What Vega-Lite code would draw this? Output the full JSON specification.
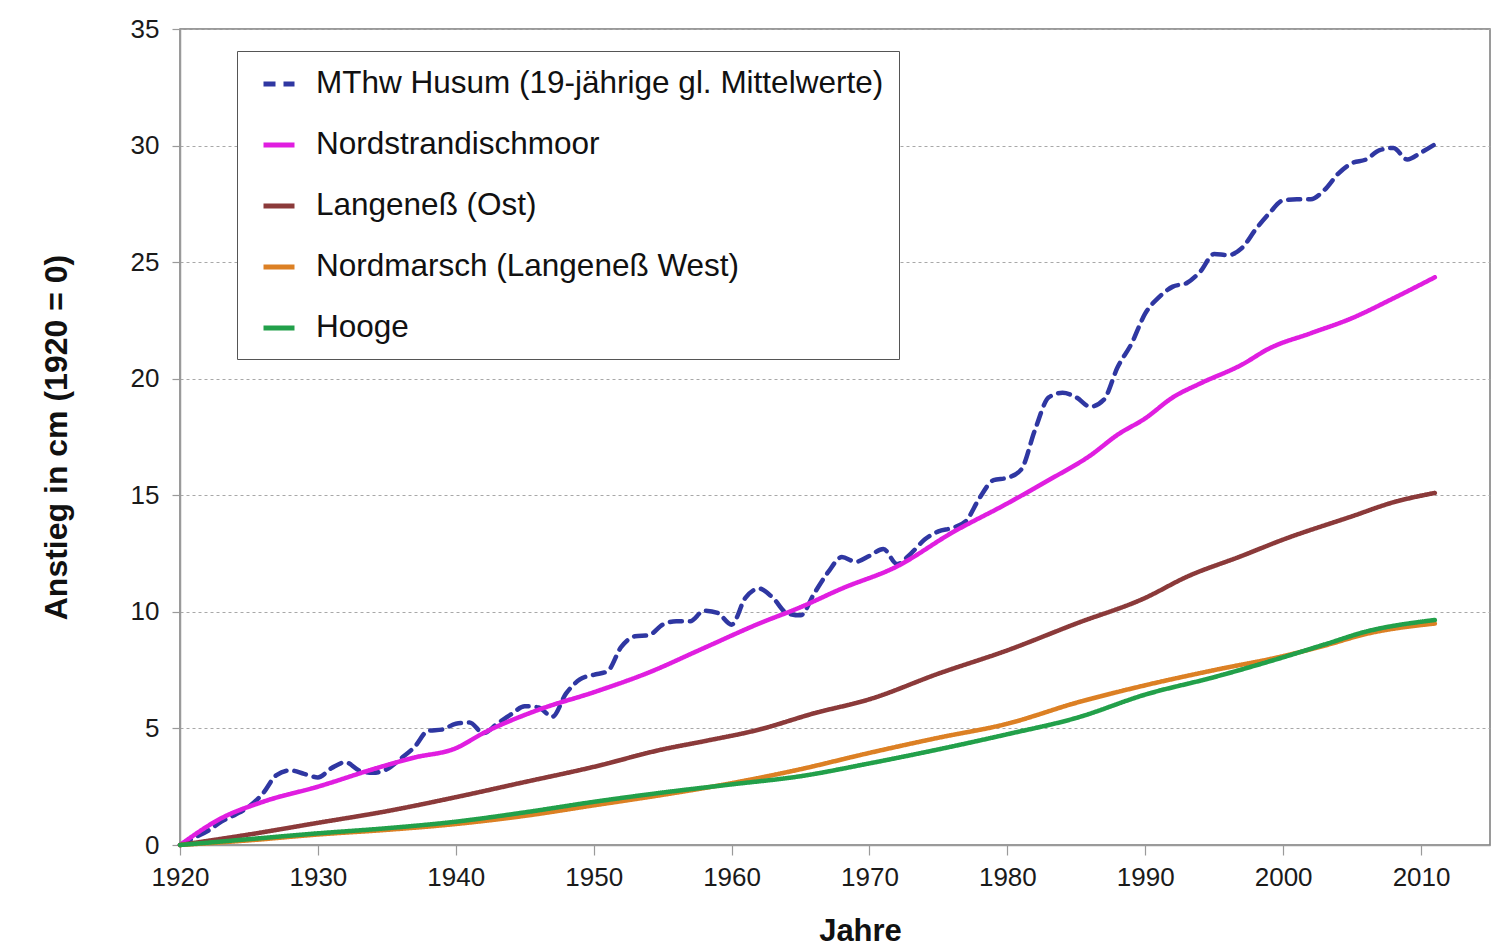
{
  "$schema": "https://vega.github.io/schema/vega-lite/v6.json",
  "width": 1310,
  "height": 816,
  "autosize": {"type": "none"},
  "padding": {"left": 180, "top": 29, "right": 22, "bottom": 107},
  "background": "white",
  "config": {
    "font": "Liberation Sans",
    "view": {"stroke": "#7a7a7a", "strokeWidth": 1.5},
    "axis": {
      "labelFont": "Liberation Sans",
      "titleFont": "Liberation Sans",
      "labelColor": "#1a1a1a",
      "titleColor": "#111",
      "domainColor": "#9a9a9a",
      "domainWidth": 1.5,
      "tickColor": "#9a9a9a",
      "tickWidth": 1.2
    }
  },
  "datasets": {
    "rows": [
      {"s": "MThw Husum (19-jährige gl. Mittelwerte)", "year": 1920, "v": 0},
      {"s": "MThw Husum (19-jährige gl. Mittelwerte)", "year": 1921, "v": 0.3},
      {"s": "MThw Husum (19-jährige gl. Mittelwerte)", "year": 1922, "v": 0.6},
      {"s": "MThw Husum (19-jährige gl. Mittelwerte)", "year": 1923, "v": 1.0},
      {"s": "MThw Husum (19-jährige gl. Mittelwerte)", "year": 1924, "v": 1.3},
      {"s": "MThw Husum (19-jährige gl. Mittelwerte)", "year": 1925, "v": 1.65},
      {"s": "MThw Husum (19-jährige gl. Mittelwerte)", "year": 1926, "v": 2.2},
      {"s": "MThw Husum (19-jährige gl. Mittelwerte)", "year": 1927, "v": 3.0},
      {"s": "MThw Husum (19-jährige gl. Mittelwerte)", "year": 1928, "v": 3.2},
      {"s": "MThw Husum (19-jährige gl. Mittelwerte)", "year": 1929, "v": 3.05},
      {"s": "MThw Husum (19-jährige gl. Mittelwerte)", "year": 1930, "v": 2.9},
      {"s": "MThw Husum (19-jährige gl. Mittelwerte)", "year": 1931, "v": 3.3},
      {"s": "MThw Husum (19-jährige gl. Mittelwerte)", "year": 1932, "v": 3.55},
      {"s": "MThw Husum (19-jährige gl. Mittelwerte)", "year": 1933, "v": 3.2},
      {"s": "MThw Husum (19-jährige gl. Mittelwerte)", "year": 1934, "v": 3.1},
      {"s": "MThw Husum (19-jährige gl. Mittelwerte)", "year": 1935, "v": 3.25},
      {"s": "MThw Husum (19-jährige gl. Mittelwerte)", "year": 1936, "v": 3.7},
      {"s": "MThw Husum (19-jährige gl. Mittelwerte)", "year": 1937, "v": 4.2},
      {"s": "MThw Husum (19-jährige gl. Mittelwerte)", "year": 1938, "v": 4.9},
      {"s": "MThw Husum (19-jährige gl. Mittelwerte)", "year": 1939, "v": 4.95},
      {"s": "MThw Husum (19-jährige gl. Mittelwerte)", "year": 1940, "v": 5.2},
      {"s": "MThw Husum (19-jährige gl. Mittelwerte)", "year": 1941, "v": 5.25},
      {"s": "MThw Husum (19-jährige gl. Mittelwerte)", "year": 1942, "v": 4.8},
      {"s": "MThw Husum (19-jährige gl. Mittelwerte)", "year": 1943, "v": 5.2},
      {"s": "MThw Husum (19-jährige gl. Mittelwerte)", "year": 1944, "v": 5.6},
      {"s": "MThw Husum (19-jährige gl. Mittelwerte)", "year": 1945, "v": 5.95},
      {"s": "MThw Husum (19-jährige gl. Mittelwerte)", "year": 1946, "v": 5.9},
      {"s": "MThw Husum (19-jährige gl. Mittelwerte)", "year": 1947, "v": 5.5},
      {"s": "MThw Husum (19-jährige gl. Mittelwerte)", "year": 1948, "v": 6.5},
      {"s": "MThw Husum (19-jährige gl. Mittelwerte)", "year": 1949, "v": 7.1},
      {"s": "MThw Husum (19-jährige gl. Mittelwerte)", "year": 1950, "v": 7.3},
      {"s": "MThw Husum (19-jährige gl. Mittelwerte)", "year": 1951, "v": 7.45},
      {"s": "MThw Husum (19-jährige gl. Mittelwerte)", "year": 1952, "v": 8.5},
      {"s": "MThw Husum (19-jährige gl. Mittelwerte)", "year": 1953, "v": 8.95},
      {"s": "MThw Husum (19-jährige gl. Mittelwerte)", "year": 1954, "v": 9.0},
      {"s": "MThw Husum (19-jährige gl. Mittelwerte)", "year": 1955, "v": 9.45},
      {"s": "MThw Husum (19-jährige gl. Mittelwerte)", "year": 1956, "v": 9.6},
      {"s": "MThw Husum (19-jährige gl. Mittelwerte)", "year": 1957, "v": 9.6},
      {"s": "MThw Husum (19-jährige gl. Mittelwerte)", "year": 1958, "v": 10.05},
      {"s": "MThw Husum (19-jährige gl. Mittelwerte)", "year": 1959, "v": 9.95},
      {"s": "MThw Husum (19-jährige gl. Mittelwerte)", "year": 1960, "v": 9.45},
      {"s": "MThw Husum (19-jährige gl. Mittelwerte)", "year": 1961, "v": 10.6},
      {"s": "MThw Husum (19-jährige gl. Mittelwerte)", "year": 1962, "v": 11.0},
      {"s": "MThw Husum (19-jährige gl. Mittelwerte)", "year": 1963, "v": 10.6},
      {"s": "MThw Husum (19-jährige gl. Mittelwerte)", "year": 1964, "v": 9.95},
      {"s": "MThw Husum (19-jährige gl. Mittelwerte)", "year": 1965, "v": 9.85},
      {"s": "MThw Husum (19-jährige gl. Mittelwerte)", "year": 1966, "v": 10.8},
      {"s": "MThw Husum (19-jährige gl. Mittelwerte)", "year": 1967, "v": 11.7},
      {"s": "MThw Husum (19-jährige gl. Mittelwerte)", "year": 1968, "v": 12.35},
      {"s": "MThw Husum (19-jährige gl. Mittelwerte)", "year": 1969, "v": 12.15},
      {"s": "MThw Husum (19-jährige gl. Mittelwerte)", "year": 1970, "v": 12.4},
      {"s": "MThw Husum (19-jährige gl. Mittelwerte)", "year": 1971, "v": 12.7},
      {"s": "MThw Husum (19-jährige gl. Mittelwerte)", "year": 1972, "v": 12.05},
      {"s": "MThw Husum (19-jährige gl. Mittelwerte)", "year": 1973, "v": 12.5},
      {"s": "MThw Husum (19-jährige gl. Mittelwerte)", "year": 1974, "v": 13.1},
      {"s": "MThw Husum (19-jährige gl. Mittelwerte)", "year": 1975, "v": 13.45},
      {"s": "MThw Husum (19-jährige gl. Mittelwerte)", "year": 1976, "v": 13.6},
      {"s": "MThw Husum (19-jährige gl. Mittelwerte)", "year": 1977, "v": 13.9},
      {"s": "MThw Husum (19-jährige gl. Mittelwerte)", "year": 1978, "v": 14.9},
      {"s": "MThw Husum (19-jährige gl. Mittelwerte)", "year": 1979, "v": 15.65},
      {"s": "MThw Husum (19-jährige gl. Mittelwerte)", "year": 1980, "v": 15.75},
      {"s": "MThw Husum (19-jährige gl. Mittelwerte)", "year": 1981, "v": 16.1},
      {"s": "MThw Husum (19-jährige gl. Mittelwerte)", "year": 1982, "v": 17.8},
      {"s": "MThw Husum (19-jährige gl. Mittelwerte)", "year": 1983, "v": 19.2},
      {"s": "MThw Husum (19-jährige gl. Mittelwerte)", "year": 1984, "v": 19.4},
      {"s": "MThw Husum (19-jährige gl. Mittelwerte)", "year": 1985, "v": 19.2},
      {"s": "MThw Husum (19-jährige gl. Mittelwerte)", "year": 1986, "v": 18.8},
      {"s": "MThw Husum (19-jährige gl. Mittelwerte)", "year": 1987, "v": 19.1},
      {"s": "MThw Husum (19-jährige gl. Mittelwerte)", "year": 1988, "v": 20.5},
      {"s": "MThw Husum (19-jährige gl. Mittelwerte)", "year": 1989, "v": 21.5},
      {"s": "MThw Husum (19-jährige gl. Mittelwerte)", "year": 1990, "v": 22.8},
      {"s": "MThw Husum (19-jährige gl. Mittelwerte)", "year": 1991, "v": 23.5},
      {"s": "MThw Husum (19-jährige gl. Mittelwerte)", "year": 1992, "v": 23.95},
      {"s": "MThw Husum (19-jährige gl. Mittelwerte)", "year": 1993, "v": 24.1},
      {"s": "MThw Husum (19-jährige gl. Mittelwerte)", "year": 1994, "v": 24.6},
      {"s": "MThw Husum (19-jährige gl. Mittelwerte)", "year": 1995, "v": 25.35},
      {"s": "MThw Husum (19-jährige gl. Mittelwerte)", "year": 1996, "v": 25.3},
      {"s": "MThw Husum (19-jährige gl. Mittelwerte)", "year": 1997, "v": 25.6},
      {"s": "MThw Husum (19-jährige gl. Mittelwerte)", "year": 1998, "v": 26.4},
      {"s": "MThw Husum (19-jährige gl. Mittelwerte)", "year": 1999, "v": 27.1},
      {"s": "MThw Husum (19-jährige gl. Mittelwerte)", "year": 2000, "v": 27.65},
      {"s": "MThw Husum (19-jährige gl. Mittelwerte)", "year": 2001, "v": 27.7},
      {"s": "MThw Husum (19-jährige gl. Mittelwerte)", "year": 2002, "v": 27.7},
      {"s": "MThw Husum (19-jährige gl. Mittelwerte)", "year": 2003, "v": 28.1},
      {"s": "MThw Husum (19-jährige gl. Mittelwerte)", "year": 2004, "v": 28.8},
      {"s": "MThw Husum (19-jährige gl. Mittelwerte)", "year": 2005, "v": 29.25},
      {"s": "MThw Husum (19-jährige gl. Mittelwerte)", "year": 2006, "v": 29.4},
      {"s": "MThw Husum (19-jährige gl. Mittelwerte)", "year": 2007, "v": 29.8},
      {"s": "MThw Husum (19-jährige gl. Mittelwerte)", "year": 2008, "v": 29.9},
      {"s": "MThw Husum (19-jährige gl. Mittelwerte)", "year": 2009, "v": 29.4},
      {"s": "MThw Husum (19-jährige gl. Mittelwerte)", "year": 2010, "v": 29.7},
      {"s": "MThw Husum (19-jährige gl. Mittelwerte)", "year": 2011, "v": 30.05},

      {"s": "Nordstrandischmoor", "year": 1920, "v": 0},
      {"s": "Nordstrandischmoor", "year": 1923, "v": 1.15},
      {"s": "Nordstrandischmoor", "year": 1926, "v": 1.85},
      {"s": "Nordstrandischmoor", "year": 1930, "v": 2.5},
      {"s": "Nordstrandischmoor", "year": 1934, "v": 3.25},
      {"s": "Nordstrandischmoor", "year": 1937, "v": 3.75},
      {"s": "Nordstrandischmoor", "year": 1940, "v": 4.15},
      {"s": "Nordstrandischmoor", "year": 1942, "v": 4.8},
      {"s": "Nordstrandischmoor", "year": 1946, "v": 5.8},
      {"s": "Nordstrandischmoor", "year": 1950, "v": 6.55},
      {"s": "Nordstrandischmoor", "year": 1954, "v": 7.4},
      {"s": "Nordstrandischmoor", "year": 1958, "v": 8.45},
      {"s": "Nordstrandischmoor", "year": 1962, "v": 9.5},
      {"s": "Nordstrandischmoor", "year": 1965, "v": 10.2},
      {"s": "Nordstrandischmoor", "year": 1968, "v": 11.0},
      {"s": "Nordstrandischmoor", "year": 1972, "v": 11.95},
      {"s": "Nordstrandischmoor", "year": 1976, "v": 13.4},
      {"s": "Nordstrandischmoor", "year": 1980, "v": 14.65},
      {"s": "Nordstrandischmoor", "year": 1983, "v": 15.65},
      {"s": "Nordstrandischmoor", "year": 1986, "v": 16.7},
      {"s": "Nordstrandischmoor", "year": 1988, "v": 17.6},
      {"s": "Nordstrandischmoor", "year": 1990, "v": 18.3},
      {"s": "Nordstrandischmoor", "year": 1992, "v": 19.2},
      {"s": "Nordstrandischmoor", "year": 1994, "v": 19.8},
      {"s": "Nordstrandischmoor", "year": 1997, "v": 20.6},
      {"s": "Nordstrandischmoor", "year": 1999, "v": 21.3},
      {"s": "Nordstrandischmoor", "year": 2002, "v": 21.95},
      {"s": "Nordstrandischmoor", "year": 2005, "v": 22.6},
      {"s": "Nordstrandischmoor", "year": 2008, "v": 23.45},
      {"s": "Nordstrandischmoor", "year": 2011, "v": 24.35},

      {"s": "Langeneß (Ost)", "year": 1920, "v": 0},
      {"s": "Langeneß (Ost)", "year": 1925, "v": 0.45},
      {"s": "Langeneß (Ost)", "year": 1930, "v": 0.95},
      {"s": "Langeneß (Ost)", "year": 1935, "v": 1.45},
      {"s": "Langeneß (Ost)", "year": 1940, "v": 2.05},
      {"s": "Langeneß (Ost)", "year": 1945, "v": 2.7},
      {"s": "Langeneß (Ost)", "year": 1950, "v": 3.35},
      {"s": "Langeneß (Ost)", "year": 1955, "v": 4.1},
      {"s": "Langeneß (Ost)", "year": 1958, "v": 4.45},
      {"s": "Langeneß (Ost)", "year": 1962, "v": 4.95},
      {"s": "Langeneß (Ost)", "year": 1966, "v": 5.65},
      {"s": "Langeneß (Ost)", "year": 1970, "v": 6.25},
      {"s": "Langeneß (Ost)", "year": 1975, "v": 7.35},
      {"s": "Langeneß (Ost)", "year": 1980, "v": 8.35},
      {"s": "Langeneß (Ost)", "year": 1985, "v": 9.5},
      {"s": "Langeneß (Ost)", "year": 1990, "v": 10.6},
      {"s": "Langeneß (Ost)", "year": 1993, "v": 11.5},
      {"s": "Langeneß (Ost)", "year": 1997, "v": 12.4},
      {"s": "Langeneß (Ost)", "year": 2000, "v": 13.1},
      {"s": "Langeneß (Ost)", "year": 2005, "v": 14.1},
      {"s": "Langeneß (Ost)", "year": 2008, "v": 14.7},
      {"s": "Langeneß (Ost)", "year": 2011, "v": 15.1},

      {"s": "Nordmarsch (Langeneß West)", "year": 1920, "v": 0},
      {"s": "Nordmarsch (Langeneß West)", "year": 1925, "v": 0.2},
      {"s": "Nordmarsch (Langeneß West)", "year": 1930, "v": 0.45},
      {"s": "Nordmarsch (Langeneß West)", "year": 1935, "v": 0.65},
      {"s": "Nordmarsch (Langeneß West)", "year": 1940, "v": 0.9},
      {"s": "Nordmarsch (Langeneß West)", "year": 1945, "v": 1.25},
      {"s": "Nordmarsch (Langeneß West)", "year": 1950, "v": 1.7},
      {"s": "Nordmarsch (Langeneß West)", "year": 1955, "v": 2.15},
      {"s": "Nordmarsch (Langeneß West)", "year": 1960, "v": 2.65},
      {"s": "Nordmarsch (Langeneß West)", "year": 1965, "v": 3.25},
      {"s": "Nordmarsch (Langeneß West)", "year": 1970, "v": 3.95},
      {"s": "Nordmarsch (Langeneß West)", "year": 1975, "v": 4.6},
      {"s": "Nordmarsch (Langeneß West)", "year": 1980, "v": 5.2},
      {"s": "Nordmarsch (Langeneß West)", "year": 1985, "v": 6.1},
      {"s": "Nordmarsch (Langeneß West)", "year": 1990, "v": 6.85},
      {"s": "Nordmarsch (Langeneß West)", "year": 1995, "v": 7.5},
      {"s": "Nordmarsch (Langeneß West)", "year": 2000, "v": 8.1},
      {"s": "Nordmarsch (Langeneß West)", "year": 2003, "v": 8.55},
      {"s": "Nordmarsch (Langeneß West)", "year": 2006, "v": 9.05},
      {"s": "Nordmarsch (Langeneß West)", "year": 2011, "v": 9.5},

      {"s": "Hooge", "year": 1920, "v": 0},
      {"s": "Hooge", "year": 1925, "v": 0.25},
      {"s": "Hooge", "year": 1930, "v": 0.5},
      {"s": "Hooge", "year": 1935, "v": 0.72},
      {"s": "Hooge", "year": 1940, "v": 1.0},
      {"s": "Hooge", "year": 1945, "v": 1.4},
      {"s": "Hooge", "year": 1950, "v": 1.85},
      {"s": "Hooge", "year": 1955, "v": 2.25},
      {"s": "Hooge", "year": 1960, "v": 2.6},
      {"s": "Hooge", "year": 1965, "v": 2.95},
      {"s": "Hooge", "year": 1970, "v": 3.5},
      {"s": "Hooge", "year": 1975, "v": 4.1},
      {"s": "Hooge", "year": 1980, "v": 4.75},
      {"s": "Hooge", "year": 1985, "v": 5.45},
      {"s": "Hooge", "year": 1990, "v": 6.45},
      {"s": "Hooge", "year": 1995, "v": 7.2},
      {"s": "Hooge", "year": 2000, "v": 8.05},
      {"s": "Hooge", "year": 2003, "v": 8.6},
      {"s": "Hooge", "year": 2006, "v": 9.15},
      {"s": "Hooge", "year": 2011, "v": 9.65}
    ]
  },
  "data": {"name": "rows"},
  "mark": {"type": "line", "strokeWidth": 4.5, "interpolate": "monotone", "strokeCap": "round"},
  "encoding": {
    "x": {
      "field": "year",
      "type": "quantitative",
      "scale": {"domain": [1920, 2015], "nice": false, "zero": false},
      "axis": {
        "title": "Jahre",
        "titleFontSize": 31,
        "titleFontWeight": "bold",
        "titlePadding": 26,
        "titleX": 680,
        "labelFontSize": 26,
        "labelPadding": 9,
        "tickSize": 10,
        "values": [1920, 1930, 1940, 1950, 1960, 1970, 1980, 1990, 2000, 2010],
        "format": "d",
        "grid": false,
        "labelFlush": false
      }
    },
    "y": {
      "field": "v",
      "type": "quantitative",
      "scale": {"domain": [0, 35], "nice": false},
      "axis": {
        "title": "Anstieg in cm (1920 = 0)",
        "titleFontSize": 32,
        "titleFontWeight": "bold",
        "titlePadding": 57,
        "labelFontSize": 26,
        "labelPadding": 13,
        "tickSize": 8,
        "values": [0, 5, 10, 15, 20, 25, 30, 35],
        "grid": true,
        "gridDash": [3, 3],
        "gridColor": "#a8a8a8",
        "gridWidth": 1
      }
    },
    "color": {
      "field": "s",
      "type": "nominal",
      "scale": {
        "domain": ["MThw Husum (19-jährige gl. Mittelwerte)", "Nordstrandischmoor", "Langeneß (Ost)", "Nordmarsch (Langeneß West)", "Hooge"],
        "range": ["#2f37a2", "#e01ee0", "#8b3a3a", "#dc8024", "#22a04a"]
      },
      "legend": {
        "title": null,
        "orient": "none",
        "legendX": 57,
        "legendY": 22,
        "padding": 15,
        "strokeColor": "#555",
        "fillColor": "white",
        "labelFontSize": 31.5,
        "labelColor": "#111",
        "labelLimit": 0,
        "labelOffset": 19,
        "symbolOffset": 9,
        "symbolType": "stroke",
        "symbolSize": 961,
        "symbolStrokeWidth": 5,
        "rowPadding": 27
      }
    },
    "strokeDash": {
      "field": "s",
      "type": "nominal",
      "scale": {
        "domain": ["MThw Husum (19-jährige gl. Mittelwerte)", "Nordstrandischmoor", "Langeneß (Ost)", "Nordmarsch (Langeneß West)", "Hooge"],
        "range": [[12, 8], [1, 0], [1, 0], [1, 0], [1, 0]]
      },
      "legend": {
        "title": null,
        "orient": "none",
        "legendX": 57,
        "legendY": 22,
        "padding": 15,
        "strokeColor": "#555",
        "fillColor": "white",
        "labelFontSize": 31.5,
        "labelColor": "#111",
        "labelLimit": 0,
        "labelOffset": 19,
        "symbolOffset": 9,
        "symbolType": "stroke",
        "symbolSize": 961,
        "symbolStrokeWidth": 5,
        "rowPadding": 27
      }
    }
  }
}
